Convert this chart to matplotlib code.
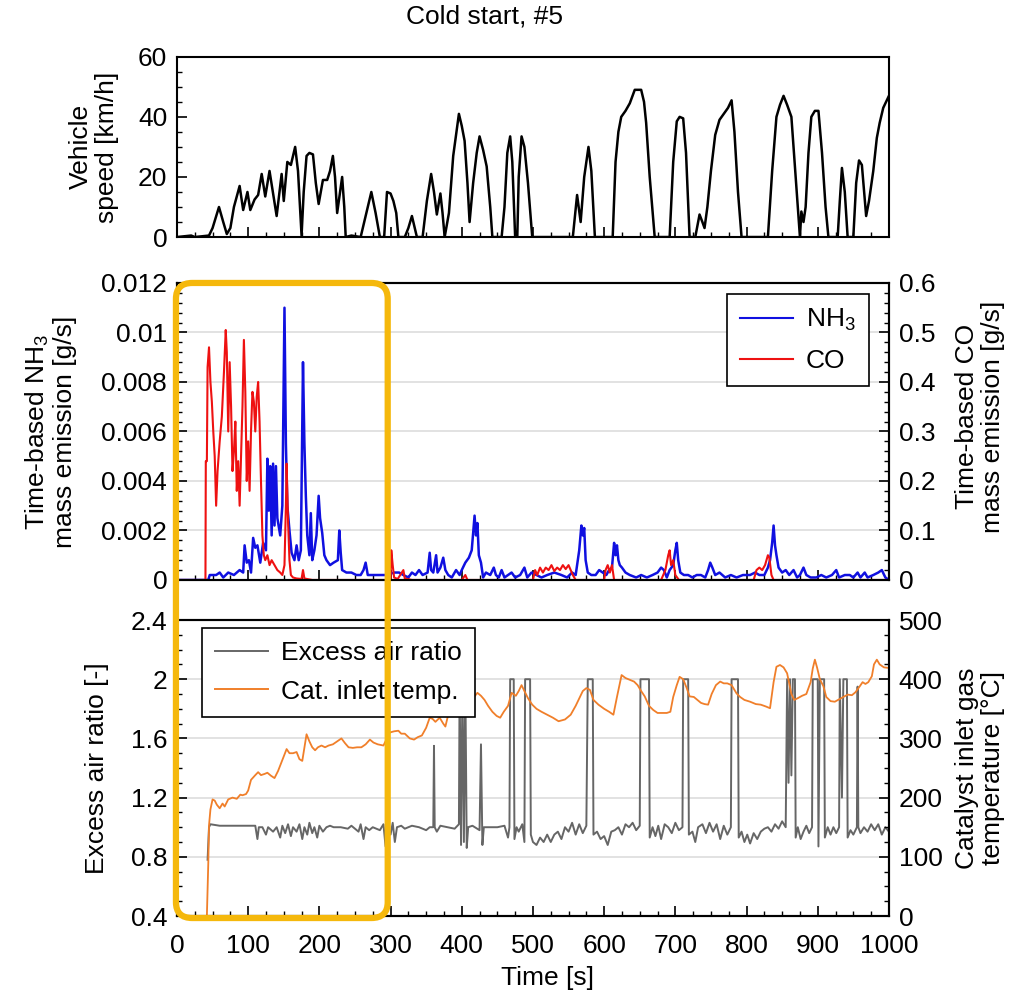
import numpy as np
import matplotlib
matplotlib.use("Agg")
import matplotlib.pyplot as plt
from matplotlib.ticker import MultipleLocator, FuncFormatter
from matplotlib.patches import FancyBboxPatch
from matplotlib.lines import Line2D

plt.rcParams['font.family'] = ['Liberation Sans', 'DejaVu Sans']
plt.rcParams['mathtext.fontset'] = 'custom'
plt.rcParams['mathtext.rm'] = 'Liberation Sans'
plt.rcParams['mathtext.it'] = 'Liberation Sans:italic'

# vehicle speed (time s, km/h)
speed_t = [0, 20, 25, 45, 50, 59, 65, 70, 75, 80, 88, 93, 99, 103, 109, 114, 119, 124, 130, 134,
           140, 147, 150, 155, 160, 166, 170, 175, 178, 182, 186, 191, 195, 199, 205, 211, 215, 219,
           222, 225, 232, 235, 237, 245, 258, 266, 273, 279, 285, 291, 295, 300, 304, 308, 311, 320,
           325, 330, 334, 337, 345, 351, 357, 361, 365, 370, 373, 376, 382, 388, 396, 400, 404, 408,
           411, 416, 421, 425, 430, 435, 440, 443, 456, 460, 464, 468, 471, 475, 478, 480, 484, 488,
           493, 499, 556, 562, 567, 572, 578, 582, 587, 612, 616, 620, 624, 630, 636, 643, 652, 656,
           659, 664, 671, 692, 697, 702, 706, 711, 715, 720, 728, 734, 738, 741, 745, 750, 756, 762,
           768, 774, 779, 783, 788, 793, 830, 836, 842, 847, 852, 857, 863, 869, 875, 877, 880, 883,
           887, 891, 896, 901, 906, 911, 915, 928, 931, 934, 938, 942, 950, 954, 958, 962, 968, 972,
           978, 983, 987, 992, 996, 1000]
speed_v = [0, 0.5, 0, 0.5, 3, 10, 5, 1, 3, 10, 17, 9, 15, 9, 12.5, 14, 21, 13.5, 22, 16,
           7, 21, 12, 25, 24, 30, 22, 0.5, 15, 27, 28, 27.5, 18, 11, 19, 19, 22, 27,
           20, 8, 20, 10, 0, 0.5, 0, 8, 15, 8, 0, 0, 15, 14.5, 12, 8, 0, 0,
           3, 7, 3, 0, 0, 12, 21, 15, 7.5, 14.5, 8, 0, 8, 27, 41, 37, 32, 18,
           5, 18, 28, 33.5, 29, 23.5, 10, 0, 0, 10, 28, 33.5, 25, 0, 0, 20, 33.5, 30,
           18, 0, 0, 14, 5, 20, 30, 22, 0, 0, 25, 35, 40, 42, 44.5, 49, 49, 45,
           38, 20, 0, 0, 25, 38.5, 40, 39.5, 28, 0, 0, 7.5, 5, 3, 10, 22, 34, 39,
           41, 43, 45.5, 35, 15, 0, 0, 22, 40, 44, 47, 44, 40, 20, 0, 8.5, 5, 10,
           28, 40, 42, 42, 28, 10, 0, 0, 12, 23, 15, 0, 0, 18, 25.5, 24, 7, 12,
           22, 33, 38, 43, 45, 47]

# NH3 mass emission (g/s)
nh3_t = [0, 44, 46, 55, 60, 65, 72, 80, 88, 93, 95, 98, 101, 104, 107, 110, 113, 117, 121, 125,
         127, 129, 131, 133, 135, 137, 139, 141, 145, 148, 151, 153, 155, 158, 161, 165, 168, 171,
         174, 177, 179, 181, 183, 186, 188, 190, 193, 196, 199, 201, 204, 207, 210, 215, 220, 226,
         228, 230, 232, 238, 245, 252, 258, 262, 265, 268, 275, 285, 295, 305, 312, 318, 325, 330,
         335, 340, 345, 352, 355, 357, 360, 364, 366, 370, 374, 377, 381, 386, 392, 397, 400, 405,
         410, 414, 418, 420, 422, 424, 427, 430, 434, 440, 445, 448, 452, 456, 460, 465, 470, 475,
         482, 488, 492, 498, 505, 512, 520, 530, 540, 548, 555, 560, 565, 568, 570, 572, 574, 577,
         582, 588, 593, 598, 603, 607, 611, 614, 616, 618, 620, 622, 625, 630, 636, 645, 652, 660,
         668, 675, 680, 684, 688, 692, 697, 700, 702, 704, 707, 712, 718, 724, 730, 736, 742, 746,
         749, 752, 756, 762, 770, 778, 786, 795, 805, 812, 818, 825, 830, 833, 836, 838, 840, 842,
         845, 850, 855, 860, 866, 871, 875, 880, 884, 890, 898, 905, 912, 920, 926, 930, 938, 945,
         950, 956, 960, 966, 970, 978, 985, 990, 995, 1000]
nh3_v = [0, 0, 0.0002, 0.0002, 0.0003, 0.0001, 0.0003, 0.0002, 0.0004, 0.0003, 0.0014, 0.0007,
         0.0008, 0.0003, 0.0017, 0.0013, 0.0014, 0.0007, 0.0015, 0.0012, 0.0049, 0.0028, 0.0046,
         0.0018, 0.0047, 0.0022, 0.0046, 0.0025, 0.0018, 0.0030, 0.011, 0.0055, 0.003, 0.0020,
         0.0011, 0.0008, 0.0014, 0.0008, 0.0012, 0.0088, 0.0055, 0.0034, 0.0018, 0.001, 0.0027,
         0.0008, 0.0012, 0.0018, 0.0034, 0.0025, 0.0019, 0.0010, 0.0008, 0.0006, 0.0007, 0.0008,
         0.002, 0.0011, 0.0004, 0.0003, 0.0003, 0.0002, 0.0002, 0.0004, 0.0007, 0.0002, 0.0002,
         0.0002, 0.0002, 0.0003, 0.0003, 0.0002, 0.0001, 0.0003, 0.0002, 0.0004, 0.0002, 0.0003,
         0.0011, 0.0004, 0.0003, 0.001, 0.0003, 0.0005, 0.0009, 0.0004, 0.0002, 0.0001, 0.0004,
         0.0002, 0.0004, 0.0007, 0.0009, 0.0012, 0.0026, 0.0018, 0.0023, 0.001, 0.0007, 0.0001,
         0.0003, 0.0002, 0.0005, 0.0002, 0.0001, 0.0004, 0.0001, 0.0002, 0.0003, 0.0001, 0.0002,
         0.0005, 0.0001, 0.0003, 0.0002, 0.0001, 0.0002, 0.0003, 0.0002, 0.0001, 0.0003, 0.0002,
         0.0012, 0.0022, 0.0018, 0.0021, 0.0008, 0.0003, 0.0002, 0.0002, 0.0004, 0.0003, 0.0002,
         0.0004, 0.0005, 0.0015, 0.0010, 0.0014, 0.0008, 0.0006, 0.0005, 0.0003, 0.0002, 0.0001,
         0.0002, 0.0001, 0.0002, 0.0003, 0.0005, 0.0004, 0.0001, 0.0004, 0.0006, 0.0012, 0.0015,
         0.0008, 0.0003, 0.0002, 0.0002, 0.0001, 0.0002, 0.0002, 0.0001, 0.0004, 0.0007, 0.0005,
         0.0002, 0.0003, 0.0001, 0.0002, 0.0001, 0.0002, 0.0002, 0.0003, 0.0002, 0.0002, 0.0005,
         0.0008, 0.0015, 0.0022, 0.0014, 0.0010, 0.0005, 0.0003, 0.0004, 0.0002, 0.0004, 0.0001,
         0.0002, 0.0005, 0.0002, 0.0001, 0.0001, 0.0002, 0.0001, 0.0002, 0.0004, 0.0001, 0.0002,
         0.0002, 0.0001, 0.0003, 0.0001, 0.0003, 0.0001, 0.0002, 0.0003, 0.0004, 0.0001, 0]

# CO mass emission (g/s)
co_t = [0, 40, 40.5, 42, 43, 45, 47, 49, 51, 53, 55, 57, 60, 63, 66, 68.5, 70, 72, 74, 76, 78,
        80, 82, 84, 86, 88, 90, 92, 94, 96, 98, 100, 102, 104, 106, 108, 110, 112, 114, 116, 118,
        120, 122, 124, 127, 130, 133, 137, 141, 145, 148, 151, 153, 154, 156, 158, 160, 163, 168,
        175, 177, 179, 190, 300, 301, 303, 305, 310, 318, 320, 330, 400, 405, 408, 500, 503, 506,
        510, 514, 518, 522, 526, 530, 534, 538, 542, 546, 550, 553, 556, 560, 600, 602, 605, 608,
        611, 614, 680, 686, 690, 692, 694, 697, 700, 705, 810, 814, 818, 822, 826, 830, 832, 835,
        838, 1000]
co_v = [0, 0, 0.24, 0.24, 0.43, 0.47, 0.40, 0.36, 0.30, 0.25, 0.15, 0.22, 0.28, 0.33, 0.42, 0.505,
        0.46, 0.3, 0.44, 0.35, 0.22, 0.26, 0.32, 0.18, 0.24, 0.15, 0.25, 0.35, 0.485, 0.38, 0.2,
        0.28, 0.18, 0.3, 0.38, 0.36, 0.30, 0.37, 0.40, 0.32, 0.20, 0.09, 0.05, 0.04, 0.05, 0.03,
        0.04, 0.03, 0.02, 0.015, 0.01, 0.03, 0.15, 0.235, 0.12, 0.04, 0.01, 0.005, 0.003, 0.002,
        0.02, 0.003, 0, 0, 0.06, 0.03, 0.005, 0.002, 0.02, 0.003, 0, 0, 0.01, 0, 0, 0.02, 0.01,
        0.025, 0.015, 0.025, 0.02, 0.03, 0.018, 0.025, 0.02, 0.03, 0.022, 0.03, 0.02, 0.01, 0, 0,
        0.02, 0.03, 0.015, 0.03, 0.0, 0, 0.02, 0.05, 0.06, 0.03, 0.04, 0.01, 0, 0, 0.02, 0.025,
        0.02, 0.03, 0.05, 0.045, 0.01, 0, 0]

# excess air ratio (-)
lam_t = [43, 45, 47, 60, 80, 110, 113, 115, 120, 125, 128, 135, 140, 145, 148, 152, 156, 160, 163,
         168, 172, 176, 179, 183, 186, 190, 193, 197, 200, 205, 210, 215, 220, 230, 240, 245, 255,
         258, 262, 265, 270, 275, 285, 290, 293, 296, 300, 303, 306, 309, 315, 320, 330, 340, 350,
         355, 360, 361, 362, 365, 370, 380, 390, 396, 397, 399, 401, 403, 405, 407, 409, 415, 425,
         427, 429, 431, 440, 450, 460, 465, 467, 468, 473, 474, 477, 480, 485, 488, 489, 496, 497,
         500, 505, 510, 515, 520, 525, 530, 535, 540, 545, 550, 555, 560, 565, 570, 575, 577, 584,
         585, 590, 595, 600, 605, 610, 615, 620, 625, 630, 635, 640, 645, 650, 651, 663, 664, 668,
         672, 676, 680, 685, 690, 695, 700, 705, 710, 711, 718, 719, 724, 728, 732, 738, 743, 748,
         753, 758, 763, 768, 773, 778, 779, 788, 789, 793, 797, 801, 805, 810, 815, 820, 825, 830,
         835, 840, 845, 850, 855, 857, 859, 861, 863, 865, 868, 869, 872, 876, 880, 884, 888, 892,
         893, 900, 901, 903, 909, 910, 914, 918, 922, 926, 930, 931, 934, 936, 941, 942, 946, 950,
         955, 956, 957, 960, 965, 970, 975, 980, 985, 990, 995, 1000]
lam_v = [0.78, 1.0, 1.02, 1.01, 1.01, 1.01, 0.92, 1.0, 1.0, 0.95, 1.0, 0.97, 1.0, 0.93, 1.01,
         0.96, 1.02, 0.94, 1.0, 0.97, 1.02, 0.92, 1.0, 0.95, 1.03, 0.96, 1.0, 0.93, 1.01, 0.97,
         1.0, 1.01, 1.0, 1.0, 0.99, 1.01, 0.97, 1.02, 0.92, 1.0, 0.98, 1.0, 0.98, 1.02, 0.87, 1.0,
         0.95, 1.03, 0.9, 1.0, 1.01, 0.99, 1.01, 1.0, 0.98, 1.0, 1.0, 1.55, 1.0, 0.97, 1.01, 1.0,
         0.99, 1.02, 2.0, 0.88, 2.0, 0.9, 2.0, 0.86, 1.0, 1.01, 0.98, 1.56, 0.88, 1.0, 1.0, 1.0,
         1.01, 0.93, 1.0, 2.0, 2.0, 0.92, 1.0, 0.97, 1.02, 0.9, 2.0, 2.0, 0.95, 0.9, 0.88, 0.93,
         0.9, 0.95, 0.9, 0.95, 0.97, 0.92, 1.0, 0.97, 1.03, 0.95, 1.02, 0.96, 1.01, 2.0, 2.0, 0.95,
         0.97, 0.92, 0.94, 0.88, 0.97, 0.98, 1.0, 0.95, 1.02, 1.0, 1.03, 0.98, 1.01, 2.0, 2.0,
         0.93, 1.0, 0.94, 1.01, 0.92, 1.02, 1.0, 0.96, 1.03, 0.98, 1.0, 2.0, 2.0, 0.95, 0.97, 0.9,
         1.0, 1.02, 0.96, 1.03, 0.97, 1.02, 0.92, 1.01, 0.95, 1.0, 2.0, 2.0, 0.93, 0.97, 0.9, 0.95,
         0.89, 0.96, 0.92, 0.97, 0.99, 1.0, 0.97, 1.02, 0.99, 1.04, 1.0, 2.0, 1.3, 2.0, 1.35, 2.0,
         2.0, 0.93, 1.0, 0.92, 0.97, 1.01, 0.96, 1.0, 2.0, 2.0, 0.87, 2.0, 2.0, 0.93, 1.0, 0.95,
         1.0, 0.96, 1.0, 2.0, 1.2, 2.0, 2.0, 0.93, 0.98, 0.95, 1.0, 1.95, 1.0, 0.96, 1.0, 0.97,
         1.02, 0.98, 1.02, 0.95, 1.0, 0.97]

# catalyst inlet gas temperature (deg C)
temp_t = [42, 44, 45, 47, 50, 53, 56, 60, 64, 67, 72, 78, 84, 89, 92, 97, 100, 104, 110, 114, 118,
          123, 127, 132, 137, 142, 150, 154, 158, 163, 168, 172, 176, 182, 186, 190, 194, 198, 203,
          208, 213, 219, 225, 231, 236, 241, 247, 253, 259, 265, 271, 276, 282, 290, 295, 299, 305,
          311, 315, 320, 327, 333, 338, 344, 350, 355, 359, 363, 369, 374, 377, 381, 385, 390, 394,
          398, 402, 407, 413, 418, 422, 427, 432, 437, 443, 449, 454, 459, 465, 470, 476, 480, 484,
          488, 493, 499, 505, 512, 520, 528, 536, 545, 553, 560, 566, 570, 575, 580, 585, 592, 600,
          607, 613, 618, 624.5, 630, 636, 642, 647, 652, 657, 663, 669, 675, 682, 688, 693, 697,
          702, 706, 711, 716, 720, 726, 731, 736, 741, 746, 751, 757, 763, 768, 773, 779, 786, 791,
          797, 805, 813, 820, 827, 833, 838, 842, 847, 852, 857, 863, 867, 872, 878, 884, 890, 893,
          896, 899, 903, 908, 912, 918, 924, 930, 936, 942, 948, 953, 959, 963, 967, 971, 976, 979,
          983, 987, 993, 1000]
temp_v = [0, 90, 153, 180, 197, 195, 188, 182, 190, 185, 197, 200, 198, 205, 204, 206, 212, 230,
          238, 243, 238, 240, 242, 237, 233, 245, 270, 282, 275, 275, 277, 265, 262, 307, 295, 285,
          280, 285, 288, 285, 288, 290, 295, 300, 292, 285, 284, 285, 285, 290, 298, 293, 290, 288,
          300, 310, 312, 313, 308, 308, 300, 298, 302, 305, 318, 335, 333, 328, 335, 325, 320, 340,
          350, 348, 355, 362, 352, 358, 365, 371, 377, 372, 365, 355, 345, 338, 335, 345, 355, 377,
          372, 380, 390, 380, 368, 357, 350, 345, 340, 335, 329, 332, 340, 355, 370, 380, 385, 382,
          365, 357, 350, 345, 340, 370, 407, 402, 399, 396, 390, 380, 371, 355, 348, 343, 343, 343,
          345, 370, 390, 404, 400, 385, 371, 370, 365, 360, 358, 357, 375, 390, 396, 393, 393, 390,
          376, 370, 365, 362, 358, 357, 354, 351, 395, 421, 424, 420, 410, 375, 365, 368, 372, 375,
          395, 418, 433, 420, 400, 388, 370, 363, 362, 366, 370, 374, 373, 378, 388, 395, 392, 395,
          405, 425, 433, 425, 420, 419]

fig = plt.figure(figsize=(10.2, 9.96), dpi=100)
L, W = 0.1735, 0.698
ax_v = fig.add_axes([L, 0.762, W, 0.181])
ax_n = fig.add_axes([L, 0.4177, W, 0.2982])
ax_l = fig.add_axes([L, 0.0803, W, 0.2972])
ax_c = ax_n.twinx()
ax_T = ax_l.twinx()

fs = 19
g = lambda v, p: '%g' % v

# speed
ax_v.plot(speed_t, speed_v, color='black', lw=1.8)
ax_v.set_ylim(0, 60)
ax_v.yaxis.set_major_locator(MultipleLocator(20))
ax_v.yaxis.set_minor_locator(MultipleLocator(5))
ax_v.set_ylabel('Vehicle\nspeed [km/h]', fontsize=fs, linespacing=1.1)
ax_v.yaxis.set_label_coords(-0.082, 0.5)

# NH3 / CO
ax_n.plot(nh3_t, nh3_v, color='#1010e0', lw=1.8)
ax_c.plot(co_t, co_v, color='#ee1111', lw=1.5)
ax_n.set_ylim(0, 0.012)
ax_c.set_ylim(0, 0.6)
ax_n.yaxis.set_major_locator(MultipleLocator(0.002))
ax_n.yaxis.set_minor_locator(MultipleLocator(0.0004))
ax_c.yaxis.set_major_locator(MultipleLocator(0.1))
ax_c.yaxis.set_minor_locator(MultipleLocator(0.02))
ax_n.yaxis.set_major_formatter(FuncFormatter(g))
ax_c.yaxis.set_major_formatter(FuncFormatter(g))
ax_n.grid(axis='y', color='#dddddd', lw=1.2)
ax_n.set_ylabel('Time-based NH$_3$\nmass emission [g/s]', fontsize=fs, linespacing=1.1)
ax_n.yaxis.set_label_coords(-0.14, 0.5)
ax_c.set_ylabel('Time-based CO\nmass emission [g/s]', fontsize=fs, linespacing=1.1)
ax_c.yaxis.set_label_coords(1.093, 0.55)
h1 = [Line2D([], [], color='#1010e0', lw=1.5), Line2D([], [], color='#ee1111', lw=1.5)]
leg = ax_c.legend(h1, ['NH$_3$', 'CO'], loc='upper right', bbox_to_anchor=(0.972, 0.963),
                  borderaxespad=0, fontsize=fs, fancybox=False, edgecolor='black',
                  framealpha=1, handlelength=2.0, handletextpad=0.5, borderpad=0.5,
                  labelspacing=0.6)
leg.get_frame().set_linewidth(1.2)

# lambda / temperature
ax_l.plot(lam_t, lam_v, color='#666666', lw=1.4)
ax_T.plot(temp_t, temp_v, color='#f07f2a', lw=1.3)
ax_l.set_ylim(0.4, 2.4)
ax_T.set_ylim(0, 500)
ax_l.yaxis.set_major_locator(MultipleLocator(0.4))
ax_l.yaxis.set_minor_locator(MultipleLocator(0.1))
ax_T.yaxis.set_major_locator(MultipleLocator(100))
ax_T.yaxis.set_minor_locator(MultipleLocator(25))
ax_l.yaxis.set_major_formatter(FuncFormatter(g))
ax_l.grid(axis='y', color='#dddddd', lw=1.2)
ax_l.set_ylabel('Excess air ratio [-]', fontsize=fs)
ax_l.yaxis.set_label_coords(-0.095, 0.5)
ax_T.set_ylabel('Catalyst inlet gas\ntemperature [\u00b0C]', fontsize=fs, linespacing=1.1)
ax_T.yaxis.set_label_coords(1.093, 0.5)
ax_l.set_xlabel('Time [s]', fontsize=fs)
ax_l.xaxis.set_label_coords(0.52, -0.17)
h2 = [Line2D([], [], color='#666666', lw=1.4), Line2D([], [], color='#f07f2a', lw=1.4)]
leg2 = ax_T.legend(h2, ['Excess air ratio', 'Cat. inlet temp.'], loc='upper left',
                   bbox_to_anchor=(0.035, 0.973), borderaxespad=0, fontsize=fs,
                   fancybox=False, edgecolor='black', framealpha=1, handlelength=2.0,
                   handletextpad=0.5, borderpad=0.5, labelspacing=0.55)
leg2.get_frame().set_linewidth(1.2)

for ax in (ax_v, ax_n, ax_l):
    ax.set_xlim(0, 1000)
    ax.xaxis.set_major_locator(MultipleLocator(100))
    ax.xaxis.set_minor_locator(MultipleLocator(25))
for ax in (ax_v, ax_n):
    ax.tick_params(axis='x', labelbottom=False)
for ax in (ax_v, ax_n, ax_l, ax_c, ax_T):
    ax.tick_params(which='major', direction='in', length=7, width=1.2, labelsize=fs)
    ax.tick_params(which='minor', direction='in', length=3.5, width=1)
    ax.tick_params(axis='y', which='major', pad=7)
    for s in ax.spines.values():
        s.set_linewidth(1.5)
ax_l.tick_params(axis='x', pad=13)

fig.text(0.475, 0.983, 'Cold start, #5', ha='center', va='center', fontsize=19)

# highlight box over the cold-start period
x0 = L - 0.001
x1 = L + W * 296 / 1000
y0 = 0.0803 - 0.002
y1 = 0.4177 + 0.2982
box = FancyBboxPatch((x0, y0), x1 - x0, y1 - y0, boxstyle='round,pad=0,rounding_size=0.016',
                     transform=fig.transFigure, fill=False, edgecolor='#f5b80c', lw=4.5,
                     zorder=20, clip_on=False)
fig.patches.append(box)

fig.savefig('out.png', dpi=100)
